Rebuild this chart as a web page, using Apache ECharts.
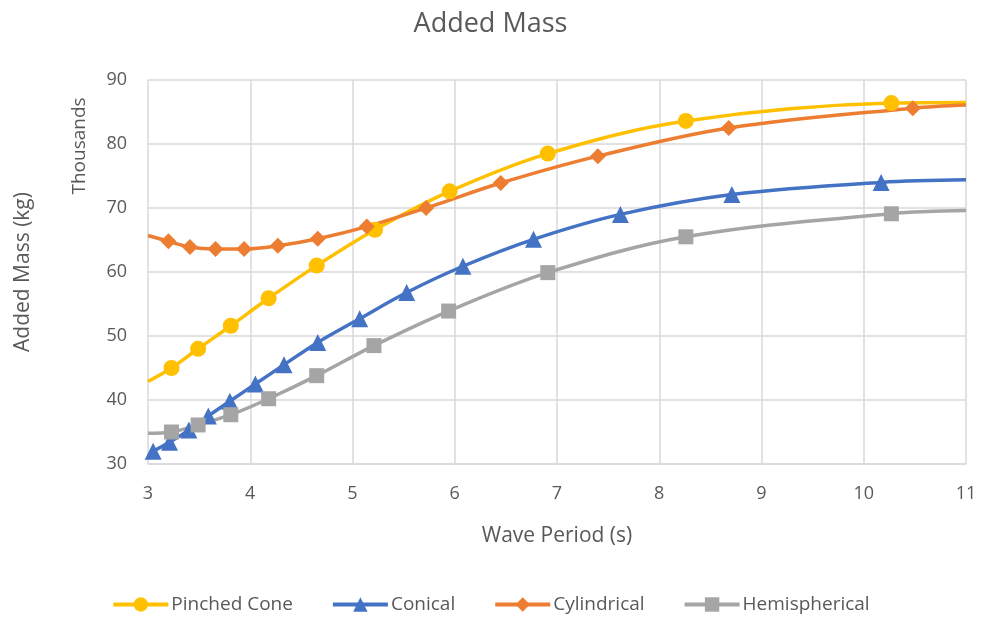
<!DOCTYPE html>
<html>
<head>
<meta charset="utf-8">
<title>Added Mass</title>
<script src="https://cdn.jsdelivr.net/npm/echarts@6/dist/echarts.min.js"></script>
<style>
  html, body { margin: 0; padding: 0; background: #fff; }
  #chart { width: 981px; height: 625px; }
</style>
</head>
<body>
<div id="chart"></div>
<script>
// wave period (s) and added mass (thousands of kg)
// first/last entries of some series sit on the axis edges (no marker there)
const pinchedX = [3, 3.23, 3.49, 3.81, 4.18, 4.65, 5.22, 5.95, 6.91, 8.26, 10.27, 11];
const pinchedY = [42.9, 45.0, 48.0, 51.6, 55.9, 61.0, 66.6, 72.6, 78.5, 83.6, 86.4, 86.5];

const conicalX = [3.05, 3.21, 3.40, 3.59, 3.80, 4.05, 4.33, 4.66, 5.07, 5.53, 6.08, 6.77, 7.62, 8.71, 10.17, 11];
const conicalY = [32.0, 33.4, 35.3, 37.5, 39.8, 42.5, 45.5, 49.0, 52.7, 56.8, 60.9, 65.1, 69.0, 72.1, 74.0, 74.4];

const cylX = [3, 3.2, 3.41, 3.66, 3.94, 4.27, 4.66, 5.14, 5.72, 6.45, 7.40, 8.68, 10.48, 11];
const cylY = [65.7, 64.8, 63.9, 63.6, 63.6, 64.1, 65.2, 67.1, 70.0, 73.9, 78.1, 82.5, 85.6, 86.1];

const hemiX = [3, 3.23, 3.49, 3.81, 4.18, 4.65, 5.21, 5.94, 6.91, 8.26, 10.27, 11];
const hemiY = [34.8, 35.0, 36.1, 37.7, 40.2, 43.8, 48.5, 53.9, 59.9, 65.5, 69.1, 69.6];

const xTicks = { min: 3, max: 11, step: 1 };
const yTicks = { min: 30, max: 90, step: 10 };

const grey = '#595959';
const gridCol = '#d9d9d9';

// points on the plot edges are only there to carry the line, so no marker
function pts(xs, ys) {
  return xs.map((x, i) => {
    const edge = x === xTicks.min || x === xTicks.max;
    return edge ? { value: [x, ys[i]], symbol: 'none' } : [x, ys[i]];
  });
}

function line(name, color, symbol, size, xs, ys) {
  return {
    name: name,
    type: 'line',
    smooth: 0.35,
    symbol: symbol,
    symbolSize: size,
    showAllSymbol: true,
    lineStyle: { color: color, width: 3.5 },
    itemStyle: { color: color },
    data: pts(xs, ys)
  };
}

const chart = echarts.init(document.getElementById('chart'));
chart.setOption({
  animation: false,
  textStyle: { fontFamily: 'Open Sans', color: grey },
  title: {
    text: 'Added Mass',
    left: 'center',
    top: 6,
    textStyle: { fontFamily: 'Open Sans', fontSize: 27, fontWeight: 'normal', color: grey }
  },
  grid: { left: 148, right: 15, top: 80, bottom: 161 },
  xAxis: {
    type: 'value',
    min: xTicks.min,
    max: xTicks.max,
    interval: xTicks.step,
    name: 'Wave Period (s)',
    nameLocation: 'middle',
    nameGap: 62,
    nameTextStyle: { fontSize: 21, color: grey },
    axisLine: { show: true, lineStyle: { color: gridCol, width: 1.5 } },
    axisTick: { show: false },
    axisLabel: { fontSize: 18, color: grey, margin: 21 },
    splitLine: { show: true, lineStyle: { color: gridCol, width: 1.5 } }
  },
  yAxis: {
    type: 'value',
    min: yTicks.min,
    max: yTicks.max,
    interval: yTicks.step,
    name: 'Added Mass (kg)',
    nameLocation: 'middle',
    nameGap: 114,
    nameTextStyle: { fontSize: 21, color: grey },
    axisLine: { show: false },
    axisTick: { show: false },
    axisLabel: { fontSize: 18, color: grey, margin: 21 },
    splitLine: { show: true, lineStyle: { color: gridCol, width: 1.5 } }
  },
  graphic: [{
    type: 'text',
    x: 80,
    y: 146,
    rotation: Math.PI / 2,
    style: {
      text: 'Thousands',
      fontFamily: 'Open Sans',
      fontSize: 19,
      fill: grey,
      align: 'center',
      verticalAlign: 'middle'
    }
  }],
  legend: {
    bottom: 6,
    left: 'center',
    itemWidth: 55,
    itemHeight: 18,
    itemGap: 38,
    lineStyle: { width: 4 },
    textStyle: { fontSize: 19, color: grey, padding: [0, 0, 0, -2] },
    data: ['Pinched Cone', 'Conical', 'Cylindrical', 'Hemispherical']
  },
  series: [
    line('Pinched Cone', '#FFC000', 'circle', 16, pinchedX, pinchedY),
    line('Conical', '#4472C4', 'triangle', 17, conicalX, conicalY),
    line('Cylindrical', '#ED7D31', 'diamond', 16, cylX, cylY),
    line('Hemispherical', '#A5A5A5', 'rect', 15, hemiX, hemiY)
  ]
});
</script>
</body>
</html>
